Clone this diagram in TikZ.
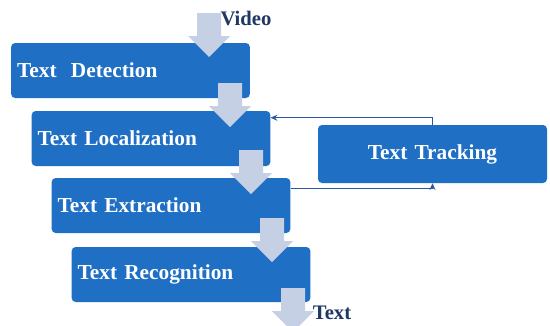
\documentclass[tikz,border=0pt]{standalone}
\usepackage{fontspec}
\setmainfont{Liberation Serif}
\usepackage{tikz}
\usetikzlibrary{arrows.meta}

\definecolor{boxblue}{RGB}{31,111,197}
\definecolor{arrowgray}{RGB}{197,208,228}
\definecolor{navytext}{RGB}{31,56,100}
\definecolor{linkblue}{RGB}{40,90,160}

% block arrow: centre x, top y (pixel units)
\newcommand{\flowarrow}[2]{%
  \fill[arrowgray] (#1-12,#2) -- (#1+12,#2) -- (#1+12,#2+23) -- (#1+21,#2+23)
    -- (#1,#2+44) -- (#1-21,#2+23) -- (#1-12,#2+23) -- cycle;}

\begin{document}
\begin{tikzpicture}[x=0.75pt,y=-0.75pt,
    stepbox/.style={rectangle,rounded corners=3pt,fill=boxblue,text=white,
      font=\fontsize{16}{18}\selectfont\bfseries,inner xsep=4.5pt,
      minimum height=41.25pt,text width=170pt,align=left},
    flowlabel/.style={text=navytext,font=\fontsize{15.5}{18}\selectfont\bfseries,inner sep=0pt}]
            \clip (0,0) rectangle (550,325);
            \fill[white] (0,0) rectangle (550,325);

            \begin{scope}
                \node[stepbox] (detection) at (130.5,70.5) {Text\ \ Detection};
                \node[stepbox] (localization) at (151,138.5) {Text Localization};
                \node[stepbox] (extraction) at (171,205.5) {Text Extraction};
                \node[stepbox] (recognition) at (191,274.5) {Text Recognition};
                \node[stepbox,text width=162.75pt,minimum height=43.5pt,align=center]
                    (tracking) at (432.5,154) {Text Tracking};
            \end{scope}

            \node[flowlabel] (video) at (246,18) {Video};
            \node[flowlabel] (text) at (332,313) {Text};

            \flowarrow{209}{13}
            \flowarrow{230}{83}
            \flowarrow{251}{150}
            \flowarrow{272}{218}
            \flowarrow{293}{288}

            \begin{scope}[>={Stealth[length=5pt,width=4.5pt]},
                          every path/.style={draw=linkblue,line width=1pt}]
                \path [->] ([yshift=-8.25pt]extraction.north east) -| (tracking.south);
                \path [->] (tracking.north) |- ([yshift=-5.25pt]localization.north east);
            \end{scope}
\end{tikzpicture}
\end{document}
